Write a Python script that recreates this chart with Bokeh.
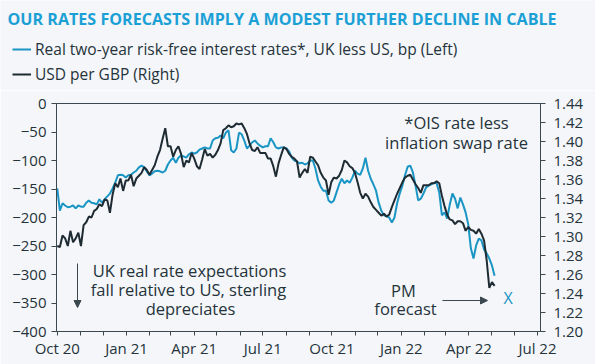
import pandas as pd
from bokeh.plotting import figure
from bokeh.layouts import column
from bokeh.models import (Range1d, LinearAxis, FixedTicker, Label, Arrow, NormalHead,
                          Legend, LegendItem, ColumnDataSource, PrintfTickFormatter)
from bokeh.embed import file_html
from bokeh.resources import INLINE
from bokeh.core.properties import value

# ---------------- data (twice a week) ----------------
dates = pd.date_range("2020-10-01", periods=167, freq="84h")

rate_diff_bp = [-149, -188, -175, -179, -182, -181, -179, -184, -179, -181,
                -181, -174, -170, -174, -175, -177, -168, -174, -168, -163,
                -158, -149, -139, -126, -125, -126, -130, -126, -125, -121,
                -118, -112, -109, -112, -119, -126, -123, -119, -118, -119,
                -121, -118, -107, -100, -95, -104, -95, -91, -93, -95,
                -89, -86, -88, -86, -81, -79, -77, -79, -79, -65,
                -61, -60, -56, -61, -51, -47, -82, -86, -79, -51,
                -54, -65, -79, -74, -68, -65, -70, -74, -77, -75,
                -75, -61, -68, -77, -79, -77, -77, -79, -84, -95,
                -100, -102, -105, -104, -107, -105, -100, -100, -114, -135,
                -146, -153, -153, -170, -174, -170, -156, -142, -132, -140,
                -135, -139, -130, -118, -123, -125, -114, -95, -118, -132,
                -142, -153, -174, -188, -196, -198, -200, -209, -200, -175,
                -158, -144, -126, -111, -109, -121, -144, -170, -167, -158,
                -147, -144, -142, -139, -140, -156, -196, -191, -202, -177,
                -158, -167, -184, -165, -177, -191, -212, -254, -272, -249,
                -237, -240, -256, -263, -272, -284, -302]

usd_per_gbp = [1.290, 1.289, 1.301, 1.298, 1.290, 1.306, 1.294, 1.298, 1.304, 1.290,
               1.312, 1.315, 1.321, 1.320, 1.327, 1.329, 1.334, 1.332, 1.339, 1.338,
               1.325, 1.344, 1.356, 1.352, 1.361, 1.348, 1.359, 1.359, 1.365, 1.353,
               1.361, 1.364, 1.367, 1.373, 1.370, 1.365, 1.370, 1.375, 1.384, 1.391,
               1.403, 1.414, 1.395, 1.395, 1.384, 1.391, 1.395, 1.387, 1.373, 1.380,
               1.378, 1.388, 1.382, 1.374, 1.371, 1.381, 1.392, 1.385, 1.387, 1.383,
               1.386, 1.391, 1.398, 1.412, 1.414, 1.417, 1.415, 1.416, 1.419, 1.418,
               1.419, 1.414, 1.408, 1.398, 1.391, 1.390, 1.394, 1.388, 1.388, 1.388,
               1.382, 1.382, 1.374, 1.363, 1.377, 1.386, 1.394, 1.392, 1.387, 1.384,
               1.382, 1.379, 1.362, 1.367, 1.371, 1.367, 1.384, 1.383, 1.379, 1.375,
               1.367, 1.362, 1.359, 1.344, 1.357, 1.362, 1.361, 1.364, 1.370, 1.380,
               1.378, 1.374, 1.372, 1.367, 1.357, 1.346, 1.340, 1.345, 1.342, 1.336,
               1.331, 1.328, 1.325, 1.322, 1.324, 1.321, 1.323, 1.331, 1.338, 1.345,
               1.351, 1.357, 1.362, 1.364, 1.365, 1.360, 1.355, 1.351, 1.346, 1.354,
               1.354, 1.354, 1.356, 1.356, 1.358, 1.356, 1.343, 1.332, 1.323, 1.318,
               1.317, 1.313, 1.316, 1.316, 1.314, 1.306, 1.310, 1.307, 1.306, 1.303,
               1.308, 1.303, 1.296, 1.275, 1.246, 1.252, 1.248]

forecast_date = [pd.Timestamp("2022-05-23")]
forecast_usd_per_gbp = [1.235]
forecast_text = ["X"]

left_ticks = [0, -50, -100, -150, -200, -250, -300, -350, -400]
right_ticks = [1.20, 1.22, 1.24, 1.26, 1.28, 1.30, 1.32, 1.34, 1.36, 1.38, 1.40, 1.42, 1.44]
month_ticks = pd.date_range("2020-10-01", "2022-07-01", freq="MS")
quarter_labels = {"2020-10": "Oct 20", "2021-01": "Jan 21", "2021-04": "Apr 21",
                  "2021-07": "Jul 21", "2021-10": "Oct 21", "2022-01": "Jan 22",
                  "2022-04": "Apr 22", "2022-07": "Jul 22"}

title_text = "OUR RATES FORECASTS IMPLY A MODEST FURTHER DECLINE IN CABLE"
series_names = ["Real two-year risk-free interest rates*, UK less US, bp (Left)",
                "USD per GBP (Right)"]

# ---------------- style ----------------
BLUE = "#1a95c4"
DARK = "#1e2b33"
TEXT = "#25333b"
AXIS = "#3b4850"
FONT = "Open Sans"
BG = "#f4f6f9"
W = 595
HEAD_H = 90

src = ColumnDataSource(dict(date=dates, bp=rate_diff_bp, fx=usd_per_gbp))

# ---------------- header: title + legend ----------------
hdr = figure(width=W, height=HEAD_H, output_backend="svg", toolbar_location=None,
             x_axis_location=None, y_axis_location=None,
             x_range=Range1d(0, 1), y_range=Range1d(0, 1),
             min_border_left=0, min_border_right=0, min_border_top=0, min_border_bottom=0)
hdr.frame_align = False
hdr.background_fill_color = BG
hdr.border_fill_color = BG
hdr.outline_line_color = None
hdr.grid.visible = False

hdr.add_layout(Label(x=7, y=HEAD_H - 18, x_units="screen", y_units="screen",
                     text=title_text, text_font=FONT, text_font_size="16.1px",
                     text_font_style="bold", text_color="#1ba0d6",
                     text_align="left", text_baseline="middle"))

# key renderers: the same series, lying outside this header's ranges (only the legend shows)
key_blue = hdr.line("date", "bp", source=src, line_color=BLUE, line_width=2)
key_dark = hdr.line("date", "fx", source=src, line_color=DARK, line_width=2)
legend = Legend(items=[LegendItem(label=series_names[0], renderers=[key_blue]),
                       LegendItem(label=series_names[1], renderers=[key_dark])],
                location=(12, 5), orientation="vertical",
                background_fill_alpha=0, border_line_alpha=0, padding=0, margin=0,
                spacing=3, glyph_width=19, glyph_height=20, label_height=20,
                label_standoff=4, label_text_font=FONT, label_text_font_size="15.5px",
                label_text_color=TEXT)
hdr.add_layout(legend, "center")

# ---------------- main chart ----------------
p = figure(frame_width=484, frame_height=228, x_axis_type="datetime",
           output_backend="svg", toolbar_location=None,
           x_range=Range1d(pd.Timestamp("2020-09-30"), pd.Timestamp("2022-07-05")),
           y_range=Range1d(-400, 0),
           min_border_left=56, min_border_right=55, min_border_top=13, min_border_bottom=33)
p.frame_align = False
p.extra_y_ranges = {"fx": Range1d(1.20, 1.44)}
p.background_fill_color = BG
p.border_fill_color = BG
p.outline_line_color = AXIS
p.outline_line_width = 1
p.grid.visible = False

p.line("date", "bp", source=src, line_color=BLUE, line_width=2)
p.line("date", "fx", source=src, line_color=DARK, line_width=2, y_range_name="fx")

fsrc = ColumnDataSource(dict(date=forecast_date, fx=forecast_usd_per_gbp, t=forecast_text))
p.text("date", "fx", text="t", source=fsrc, y_range_name="fx", text_color=BLUE,
       text_font=value(FONT), text_font_size="16px", text_align="center",
       text_baseline="middle")

def style_axis(ax):
    ax.axis_line_color = AXIS
    ax.major_tick_line_color = AXIS
    ax.minor_tick_line_color = None
    ax.major_tick_in = 0
    ax.major_tick_out = 5
    ax.major_label_text_font = FONT
    ax.major_label_text_font_size = "15px"
    ax.major_label_text_color = TEXT

xa = p.xaxis[0]
style_axis(xa)
xa.major_tick_out = 4
xa.major_label_standoff = 2
tick_ms = [int(t.value // 10**6) for t in month_ticks]
xa.ticker = FixedTicker(ticks=tick_ms)
xa.major_label_overrides = {ms: quarter_labels.get(t.strftime("%Y-%m"), "")
                            for ms, t in zip(tick_ms, month_ticks)}

ya = p.yaxis[0]
style_axis(ya)
ya.ticker = FixedTicker(ticks=left_ticks)
ya.major_label_standoff = 5

ra = LinearAxis(y_range_name="fx", ticker=FixedTicker(ticks=right_ticks),
                formatter=PrintfTickFormatter(format="%.2f"))
style_axis(ra)
ra.major_label_standoff = 8
p.add_layout(ra, "right")

def lab(x, y, t, size="16.5px", color=TEXT, align="center"):
    p.add_layout(Label(x=x, y=y, x_units="screen", y_units="screen", text=t,
                       text_font=FONT, text_font_size=size, text_color=color,
                       text_align=align, text_baseline="middle"))

lab(400, 209, "*OIS rate less")
lab(400, 189, "inflation swap rate")
lab(133, 61, "UK real rate expectations")
lab(132, 42, "fall relative to US, sterling")
lab(134, 23, "depreciates")
lab(347, 41, "PM")
lab(349, 23, "forecast")

p.add_layout(Arrow(x_start=21, y_start=68, x_end=21, y_end=24,
                   start_units="screen", end_units="screen",
                   line_color=AXIS, line_width=1,
                   end=NormalHead(size=7, fill_color=AXIS, line_color=AXIS)))
p.add_layout(Arrow(x_start=386, y_start=31, x_end=431, y_end=31,
                   start_units="screen", end_units="screen",
                   line_color=AXIS, line_width=1,
                   end=NormalHead(size=7, fill_color=AXIS, line_color=AXIS)))

layout = column(hdr, p, spacing=0)
open("out.html", "w").write(file_html(layout, INLINE))
